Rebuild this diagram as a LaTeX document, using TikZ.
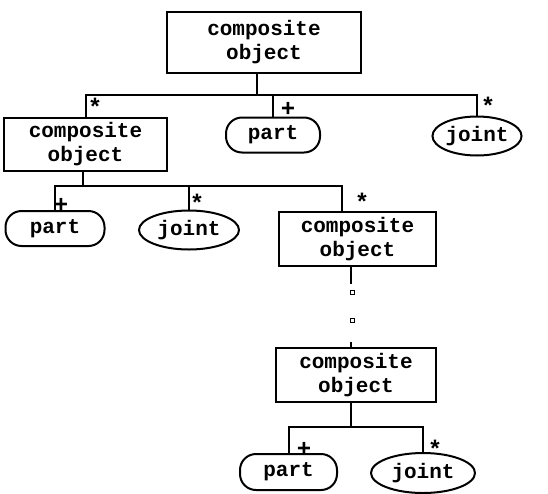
\documentclass[tikz,border=0pt]{standalone}
\usepackage{fontspec}
\newfontfamily\cofont{Liberation Mono}
\usetikzlibrary{shapes.geometric,calc}

\begin{document}
\begin{tikzpicture}[
  x=1pt, y=-1pt, line width=2pt,
  font=\cofont\bfseries\fontsize{21}{24}\selectfont,
  cobj/.style={draw, rectangle, align=center, inner sep=0pt},
  partbox/.style={draw, rounded corners=16pt, inner sep=0pt, minimum height=35pt},
  jointbox/.style={draw, ellipse, inner sep=0pt, minimum height=39pt},
  mult/.style={inner sep=0pt, text height=1.4ex, text depth=0pt, font=\cofont\bfseries\fontsize{24}{24}\selectfont},
  gapdot/.style={draw, rectangle, line width=0.9pt, minimum size=4pt, inner sep=0pt},
]
  \useasboundingbox (0,0) rectangle (548,493);

  % top level
  \node[cobj, minimum width=194pt, minimum height=61pt] (cobj1) at (264,42.5) {composite\\object};
  \node[cobj, minimum width=163pt, minimum height=53pt] (cobj2) at (85.5,144) {composite\\object};
  \node[partbox, minimum width=94pt] (part1) at (273,135) {part};
  \node[jointbox, minimum width=89pt] (joint1) at (477,136) {joint};
  \coordinate (bus1) at (257,95);
  \draw (cobj1.south -| bus1) -- (bus1);
  \draw (cobj2.north) |- (bus1) -| (joint1.north);
  \draw (part1.north) -- (part1.north |- bus1);

  % second level
  \node[partbox, minimum width=99pt] (part2) at (55,228.5) {part};
  \node[jointbox, minimum width=100pt] (joint2) at (189,230) {joint};
  \node[cobj, minimum width=157pt, minimum height=54pt] (cobj3) at (357.5,239) {composite\\object};
  \coordinate (bus2) at (83,186);
  \draw (cobj2.south -| bus2) -- (bus2);
  \draw (part2.north) |- (bus2) -| ([xshift=-16pt]cobj3.north);
  \draw (joint2.north) -- (joint2.north |- bus2);

  % chain of further levels
  \node[cobj, minimum width=160pt, minimum height=54pt] (cobj4) at (356,375) {composite\\object};
  \coordinate (chain) at (351,0);
  \draw (cobj3.south -| chain) -- ++(0,17);
  \node[gapdot] (dot1) at (352,292) {};
  \node[gapdot] (dot2) at (352,320) {};
  \draw (cobj4.north -| chain) -- ++(0,-5);

  % bottom level
  \node[partbox, minimum width=97pt, minimum height=36pt] (part3) at (288.5,472) {part};
  \node[jointbox, minimum width=104pt, minimum height=40pt] (joint3) at (423,473) {joint};
  \coordinate (bus3) at (351,427);
  \draw (cobj4.south -| bus3) -- (bus3);
  \draw (part3.north) |- (bus3) -| (joint3.north);

  % multiplicities
  \node[mult] (m1) at (95,112) {*};
  \node[mult] (m2) at (288,113) {+};
  \node[mult] (m3) at (488,111) {*};
  \node[mult] (m4) at (61,209) {+};
  \node[mult] (m5) at (197,208) {*};
  \node[mult] (m6) at (362,207) {*};
  \node[mult] (m7) at (304,453) {+};
  \node[mult] (m8) at (435,454) {*};
\end{tikzpicture}
\end{document}
